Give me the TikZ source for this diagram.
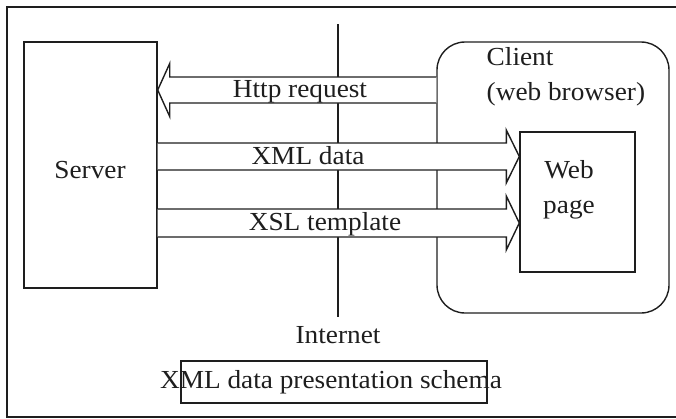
\documentclass[tikz,border=0pt]{standalone}
\usepackage{fontspec}
\setmainfont[FakeStretch=1.05]{Liberation Serif}
\usetikzlibrary{calc,positioning}
\definecolor{ink}{HTML}{1E1E1E}

\begin{document}
\begin{tikzpicture}[x=1pt, y=-1pt, font=\fontsize{26}{35}\selectfont, color=ink, line width=1.4pt,
  box/.style={draw, inner sep=0pt},
  lbl/.style={inner sep=0pt, text height=15pt, text depth=0pt},
  fatarrow/.style={draw, fill=white, line join=miter}]
  \useasboundingbox (0,0) rectangle (676,418);
  \draw (7,7) rectangle (684,417);

  \node[box, minimum width=133pt, minimum height=246pt] (server) at (90.5,165) {};
  \node[box, rounded corners=28pt, minimum width=232pt, minimum height=271pt] (client) at (553,177.5) {};
  \node[box, minimum width=115pt, minimum height=140pt] (webpage) at (577.5,202) {};

  \coordinate (nettop) at (338,24);
  \node[lbl, inner sep=10pt] (internet) at (338,335.5) {Internet};
  \draw (nettop) -- (internet.north);

  \coordinate (reqmid) at (300,90);
  \coordinate (xmlmid) at (308,156.5);
  \coordinate (xslmid) at (325,223);

  \filldraw[fatarrow] ($(client.west |- reqmid)+(0,-13)$) -- ($(server.east |- reqmid)+(12,-13)$) -- ++(0,-13.5)
    -- (server.east |- reqmid) -- ($(server.east |- reqmid)+(12,26.5)$) -- ++(0,-13.5) -- ($(client.west |- reqmid)+(0,13)$);
  \filldraw[fatarrow] ($(server.east |- xmlmid)+(0,-13.5)$) -- ($(webpage.west |- xmlmid)+(-13,-13.5)$) -- ++(0,-13)
    -- (webpage.west |- xmlmid) -- ($(webpage.west |- xmlmid)+(-13,26.5)$) -- ++(0,-13) -- ($(server.east |- xmlmid)+(0,13.5)$);
  \filldraw[fatarrow] ($(server.east |- xslmid)+(0,-14)$) -- ($(webpage.west |- xslmid)+(-13,-14)$) -- ++(0,-13)
    -- (webpage.west |- xslmid) -- ($(webpage.west |- xslmid)+(-13,27)$) -- ++(0,-13) -- ($(server.east |- xslmid)+(0,14)$);

  \node[lbl] (req) at (reqmid) {Http request};
  \node[lbl] (xml) at (xmlmid) {XML data};
  \node[lbl] (xsl) at (xslmid) {XSL template};

  \node[lbl] (servername) at (90,171) {Server};
  \node[align=left, anchor=north west, inner sep=0pt] (clientname) at (486,47) {Client\\(web browser)};
  \node[align=center, anchor=north, inner sep=0pt] (webname) at (569,160) {Web\\page};

  \node[box, minimum width=306pt, minimum height=42pt] (schemabox) at (334,382) {};
  \node[lbl] (schema) at (331,381) {XML data presentation schema};
\end{tikzpicture}
\end{document}
